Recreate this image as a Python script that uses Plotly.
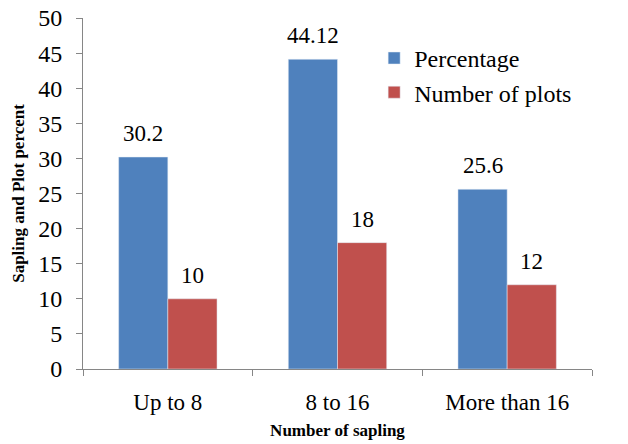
import plotly.graph_objects as go

categories = ["Up to 8", "8 to 16", "More than 16"]
percentage = [30.2, 44.12, 25.6]
plots = [10, 18, 12]
pct_labels = ["30.2", "44.12", "25.6"]
plot_labels = ["10", "18", "12"]
y_ticks = [0, 5, 10, 15, 20, 25, 30, 35, 40, 45, 50]

FONT = "Liberation Serif"
BLUE = "#4F81BD"
RED = "#C0504D"

fig = go.Figure()
fig.add_trace(go.Bar(x=categories, y=percentage, name="Percentage", marker_color=BLUE))
fig.add_trace(go.Bar(x=categories, y=plots, name="Number of plots", marker_color=RED))

annotations = []
for cat, v, t in zip(categories, percentage, pct_labels):
    annotations.append(dict(x=cat, y=v, text=t, showarrow=False, xshift=-24.6, yshift=9,
                            yanchor="bottom", font=dict(size=23, family=FONT, color="black")))
for cat, v, t in zip(categories, plots, plot_labels):
    annotations.append(dict(x=cat, y=v, text=t, showarrow=False, xshift=24.6, yshift=9,
                            yanchor="bottom", font=dict(size=23, family=FONT, color="black")))

fig.update_layout(
    width=628, height=444,
    margin=dict(l=83, r=36, t=18, b=75, autoexpand=False),
    paper_bgcolor="white", plot_bgcolor="white",
    font=dict(family=FONT, color="black", size=23),
    barmode="group", bargap=0.42, bargroupgap=0,
    showlegend=True,
    annotations=annotations,
    legend=dict(x=0.572, y=0.949, xanchor="left", yanchor="top",
                font=dict(size=24, family=FONT, color="black"), bgcolor="rgba(0,0,0,0)",
                itemwidth=30),
    xaxis=dict(showline=True, linecolor="#868686", linewidth=1, automargin=False,
               ticks="outside", ticklen=6, tickcolor="#868686",
               tickson="boundaries", ticklabelstandoff=12,
               tickfont=dict(size=23, family=FONT),
               title=dict(text="<b>Number of sapling</b>", font=dict(size=17, family=FONT), standoff=10)),
    yaxis=dict(range=[0, 50], tickvals=y_ticks, showline=True, linecolor="#868686",
               linewidth=1, ticks="outside", ticklen=6, tickcolor="#868686", automargin=False,
               showgrid=False, zeroline=False, ticklabelstandoff=9,
               tickfont=dict(size=24, family=FONT),
               title=dict(text="<b>Sapling and Plot percent</b>", font=dict(size=17, family=FONT), standoff=9)),
)

fig.write_html("out.html", config={"displayModeBar": False},
               post_script="document.body.style.margin='0';")
